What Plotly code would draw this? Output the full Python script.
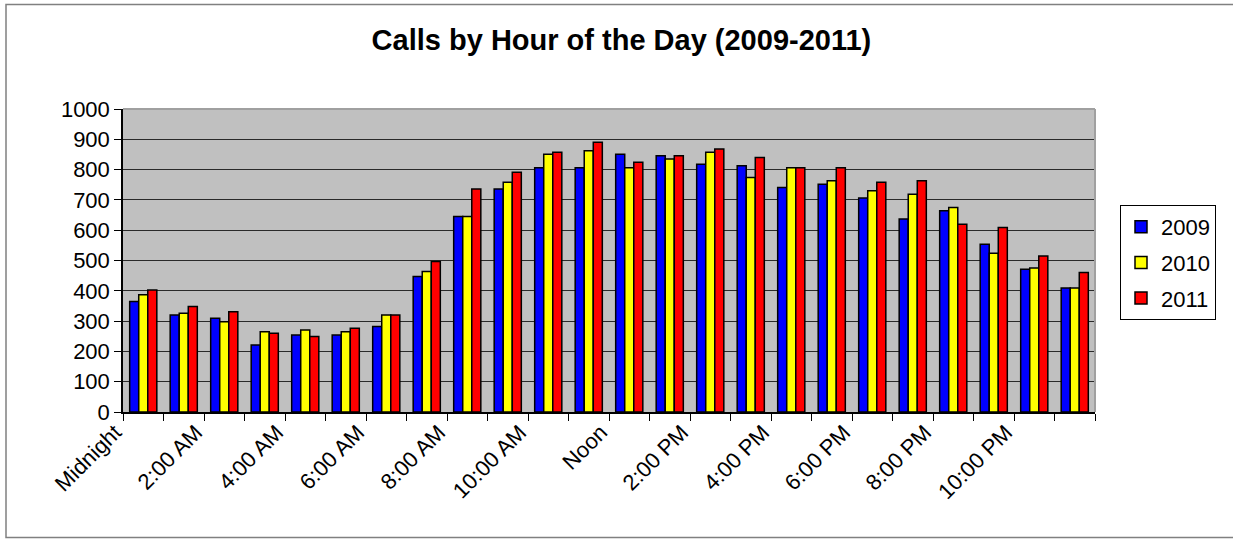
import plotly.graph_objects as go

hours = list(range(24))
tick_labels = ["Midnight", "2:00 AM", "4:00 AM", "6:00 AM", "8:00 AM", "10:00 AM",
               "Noon", "2:00 PM", "4:00 PM", "6:00 PM", "8:00 PM", "10:00 PM"]
years = ["2009", "2010", "2011"]
calls_2009 = [365, 320, 309, 221, 254, 254, 282, 447, 645, 736, 806, 806,
              851, 846, 818, 813, 741, 752, 706, 637, 664, 554, 471, 409]
calls_2010 = [387, 326, 298, 265, 271, 265, 320, 464, 645, 758, 851, 862,
              806, 835, 857, 774, 806, 763, 730, 719, 675, 524, 475, 409]
calls_2011 = [403, 348, 331, 260, 249, 276, 320, 497, 736, 791, 857, 890,
              824, 846, 868, 840, 806, 806, 758, 763, 620, 609, 515, 460]
colors = ["#0000FF", "#FFFF00", "#FF0000"]

FONT = "Arial, Liberation Sans, sans-serif"

fig = go.Figure()
for yr, vals, col in zip(years, [calls_2009, calls_2010, calls_2011], colors):
    fig.add_trace(go.Bar(x=hours, y=vals, name=yr, legendgroup=yr,
                         marker=dict(color=col, line=dict(color="black", width=1.5))))

L, R, T, B = 123, 138, 109, 127
W, H = 1233, 539
pw, ph = W - L - R, H - T - B

fig.update_layout(
    width=W, height=H,
    margin=dict(l=L, r=R, t=T, b=B),
    paper_bgcolor="white",
    plot_bgcolor="#C0C0C0",
    barmode="group", bargap=0.33, bargroupgap=0,
    font=dict(family=FONT, color="black", size=22),
    title=dict(text="<b>Calls by Hour of the Day (2009-2011)</b>",
               x=0.504, xanchor="center", y=1 - 40 / H, yanchor="middle",
               font=dict(family=FONT, size=29, color="black")),
    legend=dict(x=(1120 - L) / pw, y=(412 - 205) / ph, xanchor="left", yanchor="top",
                bordercolor="black", borderwidth=1, bgcolor="white",
                font=dict(family=FONT, size=22), tracegroupgap=4),
    showlegend=True,
)

fig.update_xaxes(
    range=[-0.5, 23.5],
    tickmode="array",
    tickvals=[h - 0.5 for h in hours[::2]],
    ticktext=tick_labels,
    tickangle=-45,
    ticks="outside", ticklen=7, tickcolor="black", tickwidth=1,
    minor=dict(tick0=-0.5, dtick=1, ticks="outside", ticklen=7, tickcolor="black", tickwidth=1),
    showline=True, linecolor="black", linewidth=1.5,
    showgrid=False, zeroline=False,
    ticklabelstandoff=-10, ticklabelshift=-8,
    tickfont=dict(family=FONT, size=22),
)
fig.update_yaxes(
    range=[0, 1000], dtick=100, tick0=0,
    ticks="outside", ticklen=7, tickcolor="black",
    showline=True, linecolor="black", linewidth=1.5,
    showgrid=True, gridcolor="#2a2a2a", gridwidth=1,
    zeroline=False,
    tickfont=dict(family=FONT, size=22),
)

# light plot-area border on top and right
fig.add_shape(type="line", xref="paper", yref="paper", x0=0, x1=1, y0=1, y1=1,
              line=dict(color="#A0A0A0", width=2), layer="above")
fig.add_shape(type="line", xref="paper", yref="paper", x0=1, x1=1, y0=0, y1=1,
              line=dict(color="#A0A0A0", width=2), layer="above")
# outer chart border
fig.add_shape(type="rect", xref="paper", yref="paper",
              x0=(6 - L) / pw, x1=(1240 - L) / pw,
              y0=(412 - 537.5) / ph, y1=(412 - 4.5) / ph,
              line=dict(color="#808080", width=1.5), layer="below")

fig.write_html("out.html", config={"displayModeBar": False},
               post_script="document.body.style.margin='0px';")
